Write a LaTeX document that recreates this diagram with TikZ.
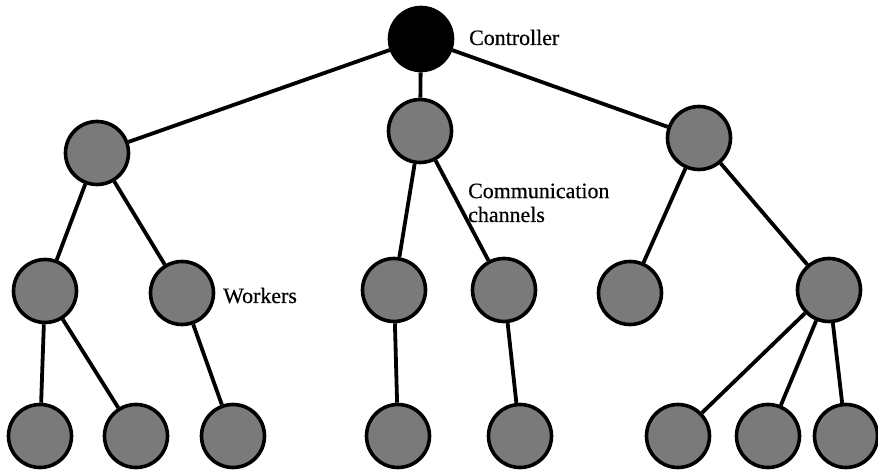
\documentclass[tikz,border=0pt]{standalone}
\usepackage{fontspec}
\setmainfont{Liberation Serif}[FakeBold=0.5]
\begin{document}
\begin{tikzpicture}[x=1bp,y=-1bp,
  worker/.style={circle,draw=black,line width=3.6bp,fill=black!52,minimum size=63bp,inner sep=0pt},
  boss/.style={circle,draw=black,line width=3.6bp,fill=black,minimum size=63bp,inner sep=0pt},
  link/.style={line width=3.8bp},
  tag/.style={inner sep=0pt,font=\fontsize{22}{24}\selectfont,align=left}]
\useasboundingbox (0,0) rectangle (878,472);

% controller
\node[boss] (ctrl) at (421,39) {};

% first level
\node[worker] (a) at (97,153) {};
\node[worker] (b) at (420,131) {};
\node[worker] (c) at (699,138) {};

% second level
\node[worker] (a1) at (45,291) {};
\node[worker] (a2) at (182,293) {};
\node[worker] (b1) at (394,290) {};
\node[worker] (b2) at (504,290) {};
\node[worker] (c1) at (630,293) {};
\node[worker] (c2) at (829,290) {};

% third level
\node[worker] (a11) at (40,436) {};
\node[worker] (a12) at (136,436) {};
\node[worker] (a21) at (233,436) {};
\node[worker] (b11) at (398,436) {};
\node[worker] (b21) at (520,436) {};
\node[worker] (c21) at (678,436) {};
\node[worker] (c22) at (768,436) {};
\node[worker] (c23) at (846,436) {};

% communication channels
\draw[link] (ctrl) -- (a);
\draw[link] (ctrl) -- (b);
\draw[link] (ctrl) -- (c);
\draw[link] (a) -- (a1);
\draw[link] (a) -- (a2);
\draw[link] (b) -- (b1);
\draw[link] (b) -- (b2);
\draw[link] (c) -- (c1);
\draw[link] (c) -- (c2);
\draw[link] (a1) -- (a11);
\draw[link] (a1) -- (a12);
\draw[link] (a2) -- (a21);
\draw[link] (b1) -- (b11);
\draw[link] (b2) -- (b21);
\draw[link] (c2) -- (c21);
\draw[link] (c2) -- (c22);
\draw[link] (c2) -- (c23);

% labels (base anchor of a two-line label sits on its last line)
\node[tag,anchor=base west] (lctrl) at (469,45) {Controller};
\node[tag,anchor=base west] (lcomm) at (468,222) {Communication\\channels};
\node[tag,anchor=base west] (lwork) at (223,303) {Workers};
\end{tikzpicture}
\end{document}
